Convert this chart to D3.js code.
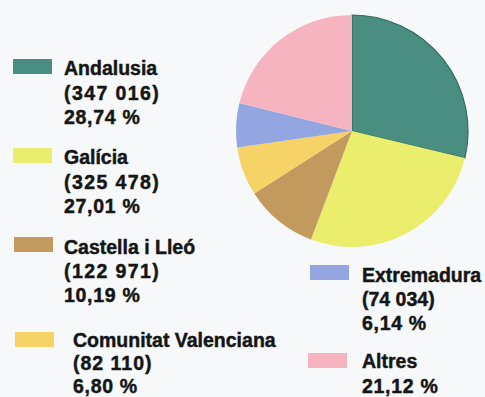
<!DOCTYPE html>
<html>
<head>
<meta charset="utf-8">
<script src="https://cdn.jsdelivr.net/npm/d3@7"></script>
<style>
  html, body { margin: 0; padding: 0; background: #f6f8f9; }
  svg { display: block; }
  .lbl { font-family: "Liberation Sans", Arial, sans-serif; font-weight: bold; font-size: 19.5px;
         fill: #151515; stroke: #151515; stroke-width: 0.45px; }
</style>
</head>
<body>
<svg id="chart" width="485" height="397"></svg>
<script>
// Comunitats autònomes: nombre i percentatge
const regions = ["Andalusia", "Galícia", "Castella i Lleó", "Comunitat Valenciana", "Extremadura", "Altres"];
const counts = ["(347 016)", "(325 478)", "(122 971)", "(82 110)", "(74 034)", null];
const percents = [28.74, 27.01, 10.19, 6.80, 6.14, 21.12];
const colors = ["#4a8e82", "#eaee6c", "#c39a5e", "#f7d267", "#93a6e2", "#f6b4c0"];

const svg = d3.select("#chart");

// Pie
const cx = 352, cy = 131, radius = 116;
const pie = d3.pie().sort(null).value(d => d.pct);
const arc = d3.arc().innerRadius(0).outerRadius(radius);
const data = regions.map((r, i) => ({ name: r, pct: percents[i], color: colors[i] }));

const g = svg.append("g").attr("transform", `translate(${cx},${cy})`);
g.selectAll("path")
  .data(pie(data))
  .join("path")
  .attr("d", arc)
  .attr("fill", d => d.data.color)
  .attr("stroke", (d, i) => i === 0 ? "#2f6b60" : "none")
  .attr("stroke-width", (d, i) => i === 0 ? 1.2 : 0);

// Legend entries: swatch position, text position, line spacing, digit tracking
const fmt = v => d3.format(".2f")(v).replace(".", ",") + " %";
const legendPos = [
  { sx: 13, sy: 59, tx: 64, ty: 75, lh: 24.5, ls: 1.4 },
  { sx: 13, sy: 148, tx: 64, ty: 164, lh: 24.5, ls: 1.4 },
  { sx: 14, sy: 237, tx: 64, ty: 254, lh: 24, ls: 1.4 },
  { sx: 15, sy: 332, tx: 73, ty: 347, lh: 23, ls: 1.0 },
  { sx: 310, sy: 265, tx: 362, ty: 282, lh: 24, ls: 0 },
  { sx: 308, sy: 353, tx: 362, ty: 368, lh: 25, ls: 0.6 }
];

const leg = svg.append("g");
data.forEach((d, i) => {
  const p = legendPos[i];
  leg.append("rect")
    .attr("x", p.sx).attr("y", p.sy)
    .attr("width", 39).attr("height", 15)
    .attr("fill", d.color);
  const lines = [{ t: d.name, ls: 0 }];
  if (counts[i]) lines.push({ t: counts[i], ls: p.ls });
  lines.push({ t: fmt(d.pct), ls: 0.7 });
  lines.forEach((ln, k) => {
    leg.append("text")
      .attr("class", "lbl")
      .attr("x", p.tx)
      .attr("y", p.ty + k * p.lh)
      .attr("letter-spacing", ln.ls)
      .text(ln.t);
  });
});
</script>
</body>
</html>
